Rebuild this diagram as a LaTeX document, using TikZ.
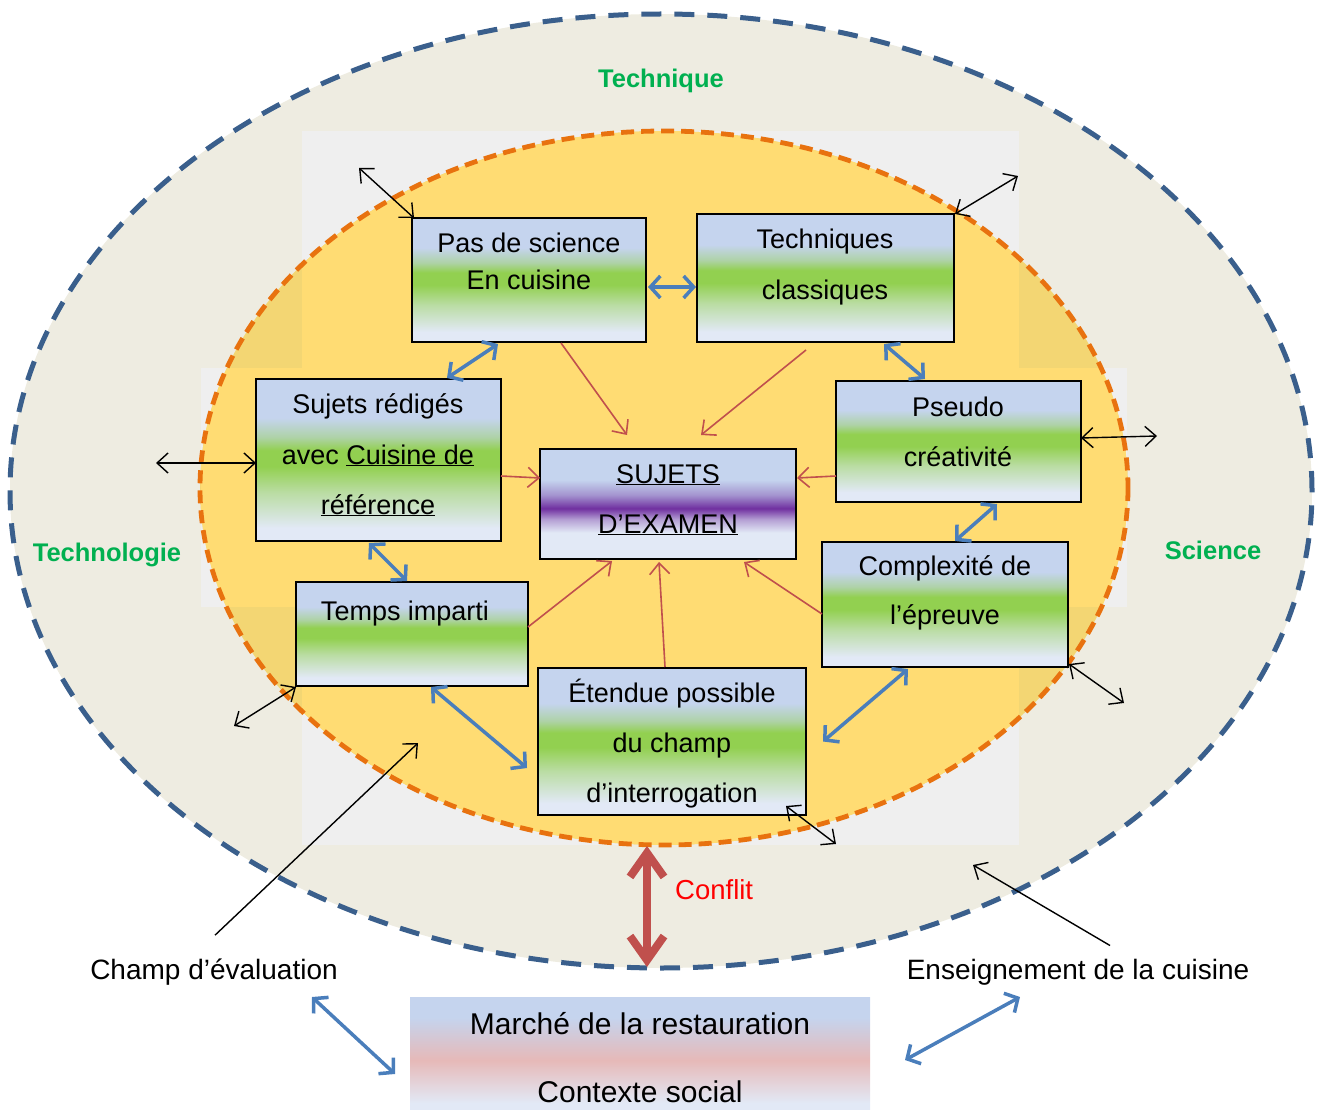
\documentclass[tikz,border=0pt]{standalone}
\usepackage{fontspec}
\setmainfont{Liberation Sans}
\usetikzlibrary{arrows.meta,calc,shapes.geometric}
\definecolor{beigeC}{HTML}{EEECE1}
\definecolor{grayC}{HTML}{EFEFEF}
\definecolor{yelL}{HTML}{FFDC73}
\definecolor{yelD}{HTML}{F3D673}
\definecolor{orangeC}{HTML}{E8720F}
\definecolor{navyC}{HTML}{3A5F8C}
\definecolor{blueT}{HTML}{C5D4EE}
\definecolor{greenC}{HTML}{92D050}
\definecolor{paleC}{HTML}{E2E9F6}
\definecolor{purpleC}{HTML}{7030A0}
\definecolor{pinkC}{HTML}{E6B9B8}
\definecolor{arrBlue}{HTML}{4A7EBB}
\definecolor{arrRed}{HTML}{C0504D}
\definecolor{techGreen}{HTML}{00B050}
\colorlet{greenMid}{greenC!50!paleC}
\colorlet{greenTop}{greenC!45!blueT}
\colorlet{lilacB}{purpleC!40!paleC}
\colorlet{lilacT}{purpleC!40!blueT}
\pgfdeclareverticalshading{greenshade}{100bp}{color(0bp)=(paleC); color(29bp)=(paleC); color(40bp)=(greenMid); color(48bp)=(greenC); color(53bp)=(greenC); color(57bp)=(greenTop); color(63bp)=(blueT); color(100bp)=(blueT)}
\pgfdeclareverticalshading{purpleshade}{100bp}{color(0bp)=(paleC); color(37bp)=(paleC); color(43bp)=(lilacB); color(48bp)=(purpleC); color(54bp)=(lilacT); color(61bp)=(blueT); color(100bp)=(blueT)}
\pgfdeclareverticalshading{marcheshade}{100bp}{color(0bp)=(paleC); color(28bp)=(paleC); color(47bp)=(pinkC); color(66bp)=(blueT); color(100bp)=(blueT)}
\begin{document}
\begin{tikzpicture}[x=1pt,y=-1pt,
  gbox/.style={draw=black, line width=2pt, shading=greenshade, inner sep=0pt, outer sep=0pt},
  pbox/.style={draw=black, line width=2pt, shading=purpleshade, inner sep=0pt, outer sep=0pt},
  mbox/.style={shading=marcheshade, inner sep=0pt, outer sep=0pt},
  btxt/.style={anchor=base, inner sep=0pt, font=\fontsize{27}{32}\selectfont},
  lbl/.style={anchor=base, inner sep=0pt, font=\fontsize{28}{32}\selectfont},
  mtxt/.style={anchor=base, inner sep=0pt, font=\fontsize{30}{34}\selectfont},
  techlbl/.style={anchor=base, inner sep=0pt, text=techGreen, font=\fontsize{25.5}{30}\selectfont\bfseries},
  bluearr/.style={draw=arrBlue, line width=3.5pt, {Straight Barb[length=10pt,width=22pt]}-{Straight Barb[length=10pt,width=22pt]}},
  redarr/.style={draw=arrRed, line width=1.6pt, -{Straight Barb[length=11pt,width=20pt]}},
  blkarr/.style={draw=black, line width=1.4pt, -{Straight Barb[length=11pt,width=20pt]}},
  blkdbl/.style={draw=black, line width=1.4pt, {Straight Barb[length=11pt,width=20pt]}-{Straight Barb[length=11pt,width=20pt]}},
  conflict/.style={draw=arrRed, line width=8pt, {Straight Barb[length=24pt,width=34pt]}-{Straight Barb[length=24pt,width=34pt]}}
]
\useasboundingbox (0,0) rectangle (1318,1110);
% outer ellipse
\node[ellipse, fill=beigeC, draw=navyC, line width=5pt, dash pattern=on 20pt off 13pt, minimum width=1302pt, minimum height=954pt, inner sep=0pt, outer sep=0pt] (outer) at (661,491) {};
% grey cross
\fill[grayC] (302,131) rectangle (1019,845);
\fill[grayC] (201,368) rectangle (1127,607);
% inner ellipse
\node[ellipse, fill=yelD, minimum width=928pt, minimum height=714pt, inner sep=0pt, outer sep=0pt] (inner) at (664,488) {};
\begin{scope}
  \clip (664,488) ellipse [x radius=464, y radius=357];
  \fill[yelL] (302,131) rectangle (1019,845);
  \fill[yelL] (201,368) rectangle (1127,607);
\end{scope}
\draw[orangeC, line width=4.8pt, dash pattern=on 13pt off 7pt] (inner.center) ellipse [x radius=464, y radius=357];

% green labels
\node[techlbl] (tq) at (661,88) {Technique};
\node[techlbl] (tg) at (107,561) {Technologie};
\node[techlbl] (sc) at (1213,559) {Science};

% boxes
\node[gbox, minimum width=234pt, minimum height=124pt] (b1) at (529,280) {};
\node[btxt] (b1a) at (529,253) {Pas de science};
\node[btxt] (b1b) at (529,290) {En cuisine};

\node[gbox, minimum width=257pt, minimum height=128pt] (b2) at (825.5,278) {};
\node[btxt] (b2a) at (825,249) {Techniques};
\node[btxt] (b2b) at (825,299) {classiques};

\node[gbox, minimum width=245pt, minimum height=162pt] (b3) at (378.5,460) {};
\node[btxt] (b3a) at (378,413) {Sujets rédigés};
\node[btxt] (b3b) at (378,464) {avec \underline{Cuisine de}};
\node[btxt] (b3c) at (378,514) {\underline{référence}};

\node[gbox, minimum width=245pt, minimum height=121pt] (b4) at (958.5,441.5) {};
\node[btxt] (b4a) at (958,416) {Pseudo};
\node[btxt] (b4b) at (958,466) {créativité};

\node[pbox, minimum width=256pt, minimum height=110pt] (b5) at (668,504) {};
\node[btxt] (b5a) at (668,483) {\underline{SUJETS}};
\node[btxt] (b5b) at (668,533) {\underline{D’EXAMEN}};

\node[gbox, minimum width=232pt, minimum height=104pt] (b6) at (412,634) {};
\node[btxt] (b6a) at (405,620) {Temps imparti};

\node[gbox, minimum width=246pt, minimum height=125pt] (b7) at (945,604.5) {};
\node[btxt] (b7a) at (945,575) {Complexité de};
\node[btxt] (b7b) at (945,624) {l’épreuve};

\node[gbox, minimum width=268pt, minimum height=147pt] (b8) at (672,741.5) {};
\node[btxt] (b8a) at (672,702) {Étendue possible};
\node[btxt] (b8b) at (672,752) {du champ};
\node[btxt] (b8c) at (672,802) {d’interrogation};

\node[mbox, minimum width=460pt, minimum height=113pt] (bm) at (640,1053.5) {};
\node[mtxt] (bma) at (640,1034) {Marché de la restauration};
\node[mtxt] (bmb) at (640,1102) {Contexte social};

% bottom labels
\node[lbl] (champ) at (214,979) {Champ d’évaluation};
\node[lbl] (ens) at (1078,979) {Enseignement de la cuisine};
\node[anchor=base west, inner sep=0pt, text=red, font=\fontsize{27.5}{30}\selectfont] (cf) at (675,899) {Conflit};

% blue double arrows
\draw[bluearr] ($(b1.east)+(2,7)$) -- ($(b2.west)+(-1,9)$);
\draw[bluearr] ($(b1.south)+(-31,2)$) -- ($(b3.north)+(68.5,-1)$);
\draw[bluearr] ($(b2.south)+(58.5,2)$) -- ($(b4.north)+(-33.5,-2)$);
\draw[bluearr] ($(b3.south)+(-9.5,2)$) -- ($(b6.north)+(-5,-1)$);
\draw[bluearr] ($(b4.south)+(38.5,2)$) -- ($(b7.north)+(10,-1)$);
\draw[bluearr] ($(b6.south)+(19,1)$) -- ($(b8.west)+(-11,26.5)$);
\draw[bluearr] ($(b7.south)+(-37,2)$) -- ($(b8.east)+(17,0)$);
\draw[bluearr] ($(champ.south)+(98,12)$) -- ($(bm.west)+(-15,20.5)$);
\draw[bluearr] ($(bm.east)+(35,6.5)$) -- ($(ens.south)+(-58,12)$);

% red arrows to SUJETS
\draw[redarr] ($(b1.south)+(32,1)$) -- ($(b5.north)+(-41,-14)$);
\draw[redarr] ($(b2.south)+(-19.5,8)$) -- ($(b5.north)+(33,-14)$);
\draw[redarr] ($(b3.east)+(0,16)$) -- ($(b5.west)+(0,-26)$);
\draw[redarr] ($(b4.west)+(0,34.5)$) -- ($(b5.east)+(1,-26)$);
\draw[redarr] ($(b6.east)+(0,-7)$) -- ($(b5.south)+(-56,2)$);
\draw[redarr] ($(b8.north)+(-7,-1)$) -- ($(b5.south)+(-9,3)$);
\draw[redarr] ($(b7.west)+(0,9.5)$) -- ($(b5.south)+(76,3)$);

% black arrows
\coordinate (k1) at (359,168);
\coordinate (k2) at (1018,176);
\coordinate (k3) at (156,463);
\coordinate (k4) at (1157,436);
\coordinate (k5) at (234,726);
\coordinate (k6) at (1124,703);
\coordinate (k7) at (836,844);
\draw[blkdbl] (k1) -- ($(b1.north west)+(2,0)$);
\draw[blkdbl] ($(b2.north east)+(1,0)$) -- (k2);
\draw[blkdbl] (k3) -- ($(b3.west)+(0,3)$);
\draw[blkdbl] ($(b4.east)+(0,-3.5)$) -- (k4);
\draw[blkdbl] ($(b6.south west)+(0,1)$) -- (k5);
\draw[blkdbl] ($(b7.south east)+(1,-3)$) -- (k6);
\draw[blkdbl] ($(b8.south east)+(-20,-9)$) -- (k7);
\coordinate (s1e) at (418,743);
\coordinate (s2e) at (973,865);
\draw[blkarr] ($(champ.north)+(1,-23)$) -- (s1e);
\draw[blkarr] ($(ens.north)+(32,-13)$) -- (s2e);

% conflict arrow
\draw[conflict] ($(inner.south)+(-17,1)$) -- ($(outer.south)+(-14,-1)$);
\end{tikzpicture}
\end{document}
